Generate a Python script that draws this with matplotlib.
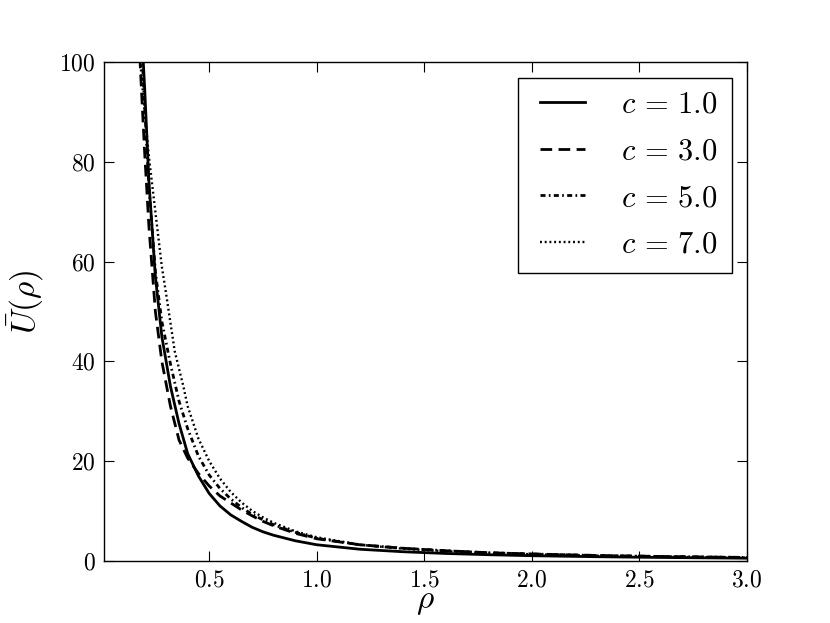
import matplotlib
matplotlib.use("Agg")
import matplotlib.pyplot as plt
from matplotlib.lines import Line2D
from matplotlib.legend_handler import HandlerLine2D

plt.rcParams['font.family'] = 'serif'
plt.rcParams['font.serif'] = ['cmr10']
plt.rcParams['mathtext.fontset'] = 'cm'
plt.rcParams['axes.formatter.use_mathtext'] = True

# values
rho_c1 = [0.19, 0.20, 0.22, 0.25, 0.28, 0.32, 0.36, 0.40, 0.45, 0.50, 0.55, 0.60,
          0.65, 0.70, 0.75, 0.80, 0.90, 1.0, 1.2, 1.4, 1.6, 1.8, 2.0, 2.3, 2.6, 3.0]
u_c1 = [103, 95, 76, 57, 45, 35, 27.5, 21.5, 17, 13.5, 11, 9.2,
        7.9, 6.7, 5.8, 5.1, 4.0, 3.2, 2.3, 1.8, 1.45, 1.2, 1.0, 0.8, 0.65, 0.5]

rho_c3 = [0.17, 0.18, 0.20, 0.22, 0.25, 0.28, 0.32, 0.36, 0.40, 0.45, 0.50, 0.55, 0.60,
          0.65, 0.70, 0.75, 0.80, 0.90, 1.0, 1.2, 1.4, 1.6, 1.8, 2.0, 2.3, 2.6, 3.0]
u_c3 = [112, 99, 82, 67, 50, 40, 31, 24.2, 20.6, 17.5, 15.0, 13.0, 11.6,
        10.2, 9.0, 7.9, 7.0, 5.5, 4.4, 3.2, 2.5, 2.0, 1.6, 1.35, 1.05, 0.85, 0.65]

rho_c5 = [0.18, 0.19, 0.20, 0.22, 0.25, 0.28, 0.32, 0.36, 0.40, 0.45, 0.50, 0.55, 0.60,
          0.65, 0.70, 0.75, 0.80, 0.90, 1.0, 1.2, 1.4, 1.6, 1.8, 2.0, 2.3, 2.6, 3.0]
u_c5 = [112, 100, 91, 75, 58, 48, 39.5, 32, 26.5, 21, 17.2, 14.5, 12.4,
        10.7, 9.3, 8.2, 7.2, 5.7, 4.5, 3.2, 2.5, 2.0, 1.6, 1.35, 1.05, 0.85, 0.65]

rho_c7 = [0.17, 0.18, 0.20, 0.22, 0.25, 0.28, 0.30, 0.34, 0.38, 0.40, 0.45, 0.50, 0.55,
          0.60, 0.65, 0.70, 0.75, 0.80, 0.90, 1.0, 1.2, 1.4, 1.6, 1.8, 2.0, 2.3, 2.6, 3.0]
u_c7 = [108, 100, 90, 81, 70, 59, 53.5, 42, 35, 31, 24.5, 20, 16.5,
        13.8, 11.7, 10.0, 8.7, 7.6, 5.9, 4.7, 3.2, 2.4, 1.9, 1.55, 1.3, 1.0, 0.8, 0.6]

labels = [r'$c\,=\,1.0$', r'$c\,=\,3.0$', r'$c\,=\,5.0$', r'$c\,=\,7.0$']

fig = plt.figure(figsize=(8.3, 6.23), dpi=100)
fig.subplots_adjust(left=0.125, right=0.9, bottom=0.1, top=0.9)
ax = fig.add_subplot(111)

ax.plot(rho_c1, u_c1, color='k', lw=2.0, linestyle='-', label=labels[0])
ax.plot(rho_c3, u_c3, color='k', lw=2.0, dashes=(4.2, 2.3), label=labels[1])
ax.plot(rho_c5, u_c5, color='k', lw=2.0, dashes=(1.8, 1.2, 0.6, 1.2), label=labels[2])
ax.plot(rho_c7, u_c7, color='k', lw=1.7, dashes=(0.8, 1.2), label=labels[3])

ax.set_xlim(0.01, 3.0)
ax.set_ylim(0, 100)
ax.set_xticks([0.5, 1.0, 1.5, 2.0, 2.5, 3.0])
ax.set_yticks([0, 20, 40, 60, 80, 100])
ax.tick_params(direction='in', length=7, width=0.8, top=True, right=True,
               labelsize=17, pad=6)
for s in ax.spines.values():
    s.set_linewidth(1.0)

ax.set_xlabel(r'$\rho$', fontsize=24, labelpad=-2)
ax.set_ylabel(r'$\bar{U}(\rho)$', fontsize=24)
ax.yaxis.set_label_coords(-0.09, 0.52)

leg = ax.legend(loc='upper right', fontsize=22, frameon=True, fancybox=False,
                edgecolor='k', framealpha=1, handlelength=1.73, handletextpad=1.2,
                labelspacing=0.63, borderpad=0.45, borderaxespad=0.5,
                handler_map={Line2D: HandlerLine2D(xpad=0.26)})
leg.get_frame().set_linewidth(1.0)

fig.savefig('out.png', dpi=100)
